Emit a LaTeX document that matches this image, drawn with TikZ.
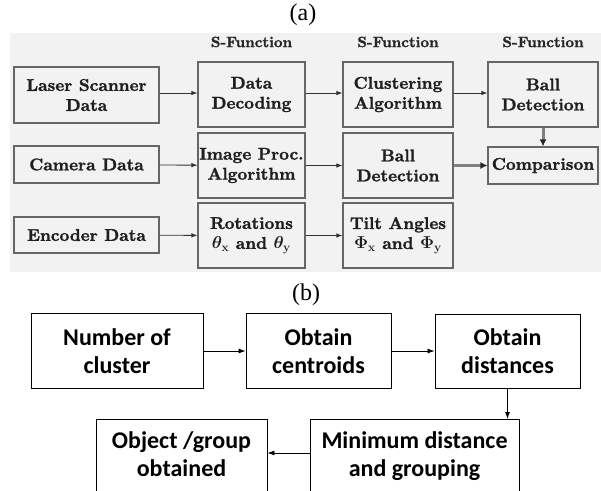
\documentclass[tikz,border=0pt]{standalone}
\usepackage{fontspec}
\newfontfamily\capfont{Liberation Serif}
\newfontfamily\calibri{Carlito}
\newfontfamily\lmbx{lmroman10-bold.otf}[FakeBold=1.5]
\usetikzlibrary{arrows.meta,positioning}

\begin{document}
\begin{tikzpicture}[x=1pt,y=-1pt,
    blk/.style={draw=black!60, line width=1.1pt, inner sep=0pt, align=center,
      text=black!88, font=\lmbx\boldmath\fontsize{17}{20}\selectfont},
    sfun/.style={inner sep=0pt, text=black!85, font=\lmbx\fontsize{15}{18}\selectfont},
    arrA/.style={-{Latex[length=6pt,width=4.5pt]}, black!80, line width=0.9pt},
    fat/.style={-{Latex[length=7pt,width=7pt,color=black!85]}, black!50, line width=3pt},
    blkB/.style={draw, line width=0.9pt, inner sep=0pt, align=center,
      font=\calibri\bfseries\fontsize{24}{28}\selectfont},
    arrB/.style={-{Latex[length=7pt,width=5pt]}, line width=0.8pt},
    subcap/.style={font=\capfont\fontsize{24}{28}\selectfont}]
        \useasboundingbox (0,0) rectangle (601,490);
        \clip (0,0) rectangle (601,490);

        % (a) panel
        \fill[black!5] (10,33) rectangle (601,272);
        \node[subcap] (capa) at (303,15) {(a)};

        % first column
        \node[blk, minimum width=145pt, minimum height=56pt] (laser) at (86.5,95) {Laser Scanner\\Data};
        \node[blk, minimum width=145pt, minimum height=37pt] (camera) at (86.5,164.5) {Camera Data};
        \node[blk, minimum width=145pt, minimum height=36pt] (encoder) at (86.5,235) {Encoder Data};

        % second column
        \node[blk, minimum width=107pt, minimum height=65pt] (decode) at (251.5,94.5) {Data\\Decoding};
        \node[blk, minimum width=107pt, minimum height=65pt] (improc) at (251.5,165.5) {Image Proc.\\Algorithm};
        \node[blk, minimum width=107pt, minimum height=65pt] (rot) at (251.5,235.5) {Rotations\\$\theta_{\mathbf{x}}$ and $\theta_{\mathbf{y}}$};

        % third column
        \node[blk, minimum width=110pt, minimum height=65pt] (clust) at (398,94.5) {Clustering\\Algorithm};
        \node[blk, minimum width=110pt, minimum height=65pt] (ballcam) at (398,165.5) {Ball\\Detection};
        \node[blk, minimum width=110pt, minimum height=65pt] (tilt) at (398,235.5) {Tilt Angles\\$\Phi_{\mathbf{x}}$ and $\Phi_{\mathbf{y}}$};

        % fourth column
        \node[blk, minimum width=110pt, minimum height=65pt] (balllas) at (543,94.5) {Ball\\Detection};
        \node[blk, minimum width=110pt, minimum height=37pt] (comp) at (543,165.5) {Comparison};

        % S-Function labels
        \node[sfun, above=14pt of decode] (sf1) {S-Function};
        \node[sfun, above=14pt of clust] (sf2) {S-Function};
        \node[sfun, above=14pt of balllas] (sf3) {S-Function};

        % connections
        \draw[arrA] (laser.east |- 0,93) -- (decode.west |- 0,93);
        \draw[arrA] (decode.east |- 0,93) -- (clust.west |- 0,93);
        \draw[arrA] (clust.east |- 0,93) -- (balllas.west |- 0,93);
        \draw[arrA] (camera) -- (improc);
        \draw[arrA] (improc) -- (ballcam);
        \draw[arrA] (encoder) -- (rot);
        \draw[arrA] (rot) -- (tilt);
        \draw[fat] (ballcam) -- (comp);
        \draw[fat] (balllas) -- (comp);

        % (b)
        \node[subcap] (capb) at (306,295) {(b)};
        \node[blkB, minimum width=172pt, minimum height=75pt] (ncl) at (117,351) {Number of\\cluster};
        \node[blkB, minimum width=145pt, minimum height=75pt] (cent) at (318.5,351) {Obtain\\centroids};
        \node[blkB, minimum width=145pt, minimum height=74pt] (dist) at (507.5,351) {Obtain\\distances};
        \node[blkB, minimum width=209pt, anchor=north, inner ysep=12pt, text depth=40pt] (mind) at (414.5,419) {Minimum distance\\and grouping};
        \node[blkB, minimum width=171pt, anchor=north, inner ysep=12pt, text depth=40pt] (obj) at (181.5,419) {Object /group\\obtained};

        \draw[arrB] (ncl) -- (cent);
        \draw[arrB] (cent) -- (dist);
        \draw[arrB] (dist.south) -- (dist.south |- mind.north);
        \draw[arrB] ([yshift=-34pt]mind.north west) -- ([yshift=-34pt]obj.north east);
    \end{tikzpicture}
\end{document}
